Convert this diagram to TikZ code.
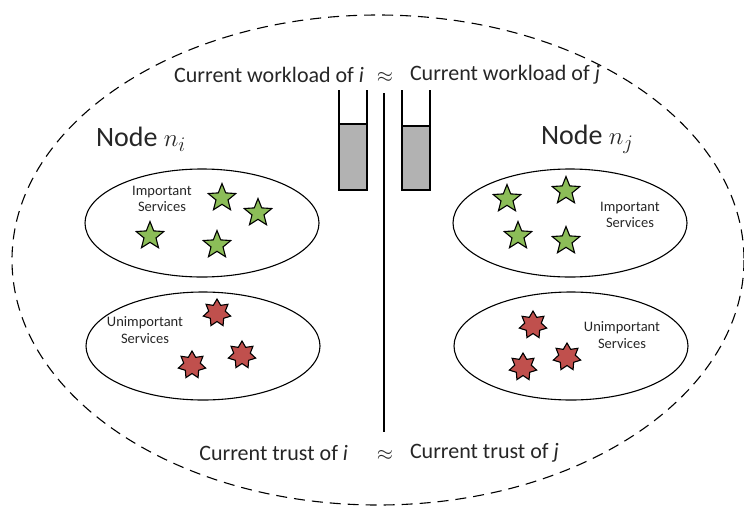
\documentclass[tikz,border=0pt]{standalone}
\usepackage{fontspec}
\setmainfont{Carlito}
\usetikzlibrary{shapes.geometric}
\definecolor{goodgreen}{RGB}{140,189,88}
\definecolor{badred}{RGB}{192,80,77}
\definecolor{tubegray}{RGB}{178,178,178}
\tikzset{
  every node/.style={inner sep=0pt, outer sep=0pt},
  goodstar/.style={star, star points=5, star point ratio=2.3, minimum size=29pt,
                   draw=black, line width=1.1pt, fill=goodgreen},
  badstar/.style={star, star points=7, star point ratio=1.65, minimum size=28pt,
                  draw=black, line width=1.1pt, fill=badred},
  svcgroup/.style={draw=black, line width=1.1pt},
  svclabel/.style={font=\fontsize{14.5}{16.5}\selectfont, align=center, text=black!85},
  biglabel/.style={font=\fontsize{22}{24}\selectfont, text=black!85},
  nodelabel/.style={font=\fontsize{28}{30}\selectfont, text=black!85},
  tube/.style={draw=black, line width=1.3pt}
}
\begin{document}
\begin{tikzpicture}[x=1pt,y=-1pt]
  \useasboundingbox (0,0) rectangle (744,512);

  % outer boundary shared by both nodes
  \draw[dashed, dash pattern=on 11pt off 7pt, line width=1.1pt]
    (378,260) ellipse [x radius=366, y radius=245];

  % separator between node i and node j
  \coordinate (sepTop) at (384,93);
  \coordinate (sepBot) at (384,432);
  \draw[line width=1.3pt] (sepTop) -- (sepBot);

  % workload tubes
  \fill[tubegray] (339,124) rectangle (367,190);
  \draw[tube] (339,124) -- (367,124);
  \draw[tube] (339,90) -- (339,190) -- (367,190) -- (367,90);
  \fill[tubegray] (402,126) rectangle (430,190);
  \draw[tube] (402,126) -- (430,126);
  \draw[tube] (402,90) -- (402,190) -- (430,190) -- (430,90);

  % top comparison
  \node[biglabel, anchor=east] (wli) at (364,75) {Current workload of \textit{i}};
  \node[biglabel] (wleq) at (385,77) {$\approx$};
  \node[biglabel, anchor=west] (wlj) at (410,75) {Current workload of \textit{j}};

  % bottom comparison
  \node[biglabel, anchor=east] (tri) at (348,453) {Current trust of \textit{i}};
  \node[biglabel] (treq) at (385,455) {$\approx$};
  \node[biglabel, anchor=west] (trj) at (410,453) {Current trust of \textit{j}};

  % node titles
  \node[nodelabel, anchor=west] (ni) at (96,139) {Node $n_i$};
  \node[nodelabel, anchor=west] (nj) at (541,139) {Node $n_j$};

  % service groups of node i
  \draw[svcgroup] (202,223) ellipse [x radius=117, y radius=54];
  \draw[svcgroup] (203,346) ellipse [x radius=117, y radius=54];
  % service groups of node j
  \draw[svcgroup] (570,223) ellipse [x radius=117, y radius=54];
  \draw[svcgroup] (571,346) ellipse [x radius=117, y radius=54];

  \node[svclabel] (impi) at (162,199) {Important\\Services};
  \node[svclabel] (unimpi) at (145,330) {Unimportant\\Services};
  \node[svclabel] (impj) at (630,215) {Important\\Services};
  \node[svclabel] (unimpj) at (622,335) {Unimportant\\Services};

  % important services (stars)
  \node[goodstar] (gi1) at (222,198) {};
  \node[goodstar] (gi2) at (258,213) {};
  \node[goodstar] (gi3) at (150,236) {};
  \node[goodstar] (gi4) at (217,245) {};
  \node[goodstar] (gj1) at (507,199) {};
  \node[goodstar] (gj2) at (566,191) {};
  \node[goodstar] (gj3) at (518,236) {};
  \node[goodstar] (gj4) at (566,241) {};

  % unimportant services (seven-point stars)
  \node[badstar] (bi1) at (217,313) {};
  \node[badstar] (bi2) at (192,365) {};
  \node[badstar] (bi3) at (242,355) {};
  \node[badstar] (bj1) at (533,325) {};
  \node[badstar] (bj2) at (523,367) {};
  \node[badstar] (bj3) at (567,357) {};
\end{tikzpicture}
\end{document}
